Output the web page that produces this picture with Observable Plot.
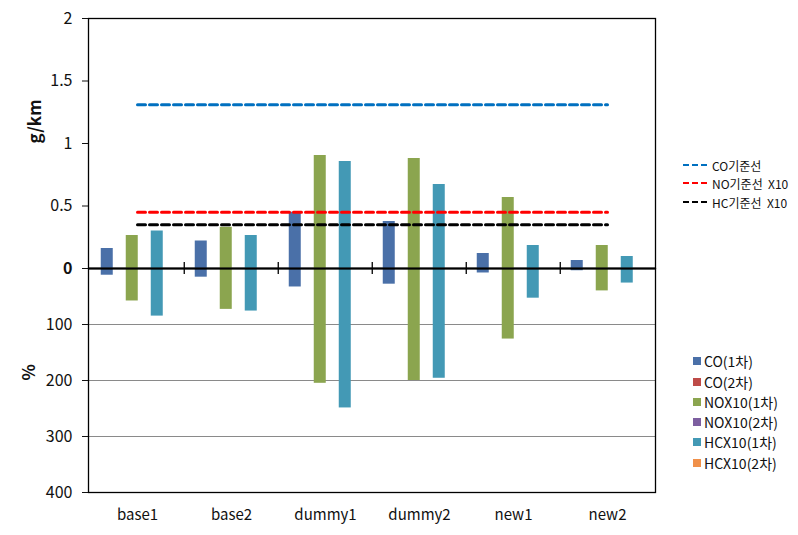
<!DOCTYPE html>
<html><head><meta charset="utf-8">
<script src="https://cdn.jsdelivr.net/npm/d3@7"></script>
<script src="https://cdn.jsdelivr.net/npm/@observablehq/plot@0.6"></script>
<style>
body{margin:0;background:#fff;}
#wrap{position:relative;width:798px;height:535px;font-family:"Noto Sans CJK KR","Noto Sans",sans-serif;color:#111;overflow:hidden;}
#wrap svg{position:absolute;left:0;}
.leg{position:absolute;white-space:pre;display:flex;align-items:center;}
</style></head><body><div id="wrap"></div>
<script>
// ---- data ----
const categories = ["base1", "base2", "dummy1", "dummy2", "new1", "new2"];
const series = ["CO", "NOX", "HC"];
const coGkm  = [0.16, 0.22, 0.45, 0.376, 0.12, 0.064];
const noxGkm = [0.264, 0.33, 0.904, 0.88, 0.568, 0.184];
const hcGkm  = [0.30, 0.264, 0.856, 0.672, 0.184, 0.096];
const coPct  = [12, 15.5, 33, 28, 8, 4];
const noxPct = [58, 73, 205, 200, 126, 40];
const hcPct  = [85, 76, 249, 196, 53, 26];
const refNames  = ["CO기준선", "NO기준선  X10", "HC기준선  X10"];
const refValues = [1.31, 0.45, 0.35];
const gkmTicks = [0.5, 1, 1.5, 2];
const pctTicks = [100, 200, 300, 400];
const legendNames = ["CO(1차)", "CO(2차)", "NOX10(1차)", "NOX10(2차)", "HCX10(1차)", "HCX10(2차)"];

// ---- styles ----
const FONT = '"Noto Sans CJK KR","Noto Sans",sans-serif';
const seriesColors = ["#4A70A8", "#8BA54F", "#4399B5"];
const legendColors = ["#4A70A8", "#BE4B48", "#8BA54F", "#7D5FA0", "#4399B5", "#F0904A"];
const refColors = ["#0070C0", "#FF0000", "#000000"];

const W = 798, mL = 88, mR = 143;
const bw = (W - mL - mR) / categories.length;
const sub = d3.scaleBand().domain(series).range([0, bw]).paddingInner(0.5).paddingOuter(0.64).align(0.336);
const inset = (bw - sub.bandwidth()) / 2;
const dxOf = s => sub(s) + sub.bandwidth() / 2 - bw / 2;

function bars(arrs) {
  return series.map((s, k) => Plot.barY(categories, {
    x: d => d, y: (d, i) => arrs[k][i], fill: seriesColors[k],
    insetLeft: inset, insetRight: inset, dx: dxOf(s)
  }));
}

const topPlot = Plot.plot({
  width: W, height: 280, marginTop: 18, marginBottom: 12, marginLeft: mL, marginRight: mR,
  style: {background: "transparent", overflow: "visible", fontFamily: FONT, fontSize: "16px", color: "#111"},
  x: {domain: categories, padding: 0},
  y: {domain: [0, 2]},
  marks: [
    ...bars([coGkm, noxGkm, hcGkm]),
    ...refValues.map((v, k) => Plot.lineY(categories, {x: d => d, y: () => v, stroke: refColors[k], strokeWidth: 3, strokeDasharray: "8,4"})),
    Plot.frame({stroke: "#000", strokeWidth: 1.3}),
    Plot.ruleY([0], {stroke: "#000", strokeWidth: 2}),
    Plot.ruleX(categories.slice(1), {x: d => d, dx: -bw / 2, y1: 0, y2: 0, insetTop: -6, insetBottom: -6, stroke: "#000", strokeWidth: 1.3}),
    Plot.axisY(gkmTicks, {tickSize: 6, tickPadding: 10, tickFormat: d => String(d), fontSize: 16, label: null}),
    Plot.axisY([0], {tickSize: 6, tickPadding: 10, tickFormat: d => String(d), fontSize: 16, fontWeight: "bold", label: null}),
    Plot.axisX({ticks: [], label: null}),
    Plot.text(["g/km"], {frameAnchor: "left", dx: -53, rotate: -90, fontWeight: "bold", fontSize: 17})
  ]
});

const botPlot = Plot.plot({
  width: W, height: 266, marginTop: 0, marginBottom: 42, marginLeft: mL, marginRight: mR,
  style: {background: "transparent", overflow: "visible", fontFamily: FONT, fontSize: "16px", color: "#111"},
  x: {domain: categories, padding: 0},
  y: {domain: [0, 400], reverse: true},
  marks: [
    Plot.ruleY([100, 200, 300], {stroke: "#8a8a8a", strokeWidth: 1}),
    ...bars([coPct, noxPct, hcPct]),
    Plot.frame({stroke: "#000", strokeWidth: 1.3}),
    Plot.axisY(pctTicks, {tickSize: 6, tickPadding: 10, fontSize: 16, label: null}),
    Plot.axisX({tickSize: 0, tickPadding: 17, fontSize: 15, label: null}),
    Plot.text(["%"], {frameAnchor: "left", dx: -59, rotate: -90, fontWeight: "bold", fontSize: 17})
  ]
});

const wrap = document.getElementById("wrap");
botPlot.style.top = "268px";
topPlot.style.top = "0px";
wrap.appendChild(botPlot);
wrap.appendChild(topPlot);

// line legend
const lineRowsY = [165, 183, 202];
refNames.forEach((n, k) => {
  const div = document.createElement("div");
  div.className = "leg";
  div.style.left = "683px";
  div.style.top = (lineRowsY[k] - 8) + "px";
  div.style.height = "16px";
  div.style.fontSize = "12px";
  div.innerHTML = `<svg width="26" height="6" style="position:static;margin-right:3px"><line x1="0" x2="26" y1="3" y2="3" stroke="${refColors[k]}" stroke-width="2" stroke-dasharray="6,3"/></svg><span>${n}</span>`;
  wrap.appendChild(div);
});

// bar legend
const barRowsY = [361, 382, 402, 422, 442, 463];
legendNames.forEach((n, k) => {
  const div = document.createElement("div");
  div.className = "leg";
  div.style.left = "693px";
  div.style.top = (barRowsY[k] - 9) + "px";
  div.style.height = "18px";
  div.style.fontSize = "14px";
  div.innerHTML = `<span style="display:inline-block;width:8px;height:8px;background:${legendColors[k]};margin-right:3px"></span><span>${n}</span>`;
  wrap.appendChild(div);
});
</script></body></html>
